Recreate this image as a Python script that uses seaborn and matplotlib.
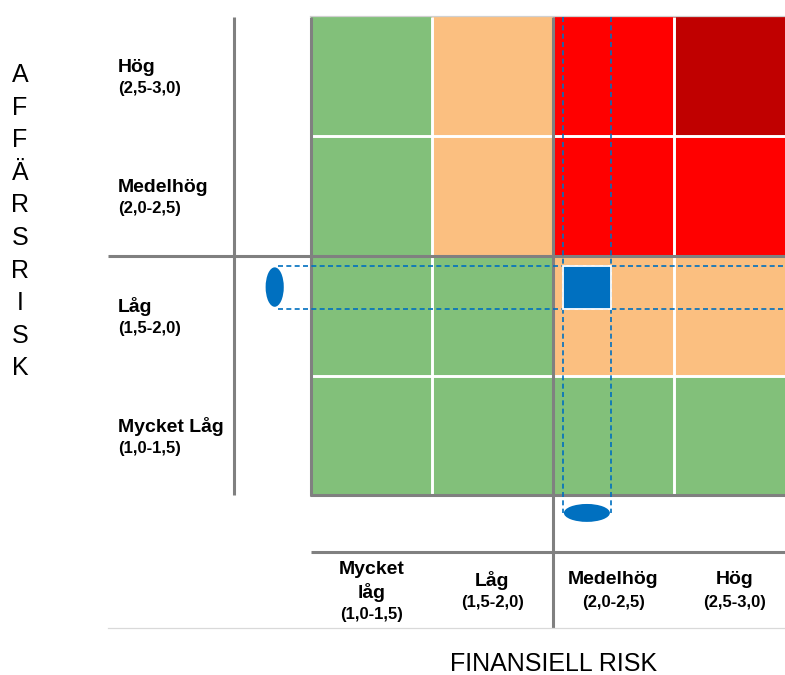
import numpy as np
import pandas as pd
import seaborn as sns
import matplotlib
matplotlib.use("Agg")
import matplotlib.pyplot as plt
from matplotlib.colors import ListedColormap
from matplotlib.patches import Rectangle, Ellipse

# Risk matrix: business risk (rows, high to low) vs financial risk (columns, low to high)
row_names = ["Hög", "Medelhög", "Låg", "Mycket Låg"]
row_ranges = ["(2,5-3,0)", "(2,0-2,5)", "(1,5-2,0)", "(1,0-1,5)"]
col_names = ["Mycket\nlåg", "Låg", "Medelhög", "Hög"]
col_ranges = ["(1,0-1,5)", "(1,5-2,0)", "(2,0-2,5)", "(2,5-3,0)"]

# Risk level per cell: 0 = low, 1 = moderate, 2 = high, 3 = very high
level_hog = [0, 1, 2, 3]
level_medelhog = [0, 1, 2, 2]
level_lag = [0, 0, 1, 1]
level_mycket_lag = [0, 0, 0, 0]

level_colors = ["#82C07A", "#FBBF80", "#FF0000", "#C00000"]

# Assessed position (score ranges on the 1,0-3,0 scale)
financial_score = (2.04, 2.24)
business_score = (1.78, 1.96)

plt.rcParams["font.family"] = ["Liberation Sans", "DejaVu Sans"]

W, H = 785, 675
fig = plt.figure(figsize=(W / 100, H / 100), dpi=100)

# Heatmap area in pixel coordinates
gx0, gx1, gy0, gy1 = 311, 795, 17, 495
ax = fig.add_axes([gx0 / W, 1 - gy1 / H, (gx1 - gx0) / W, (gy1 - gy0) / H])

matrix = pd.DataFrame([level_hog, level_medelhog, level_lag, level_mycket_lag],
                      index=row_names, columns=[c.replace("\n", " ") for c in col_names])
sns.heatmap(matrix, ax=ax, cmap=ListedColormap(level_colors), vmin=-0.5, vmax=3.5,
            cbar=False, linewidths=0, square=False)
# White separators between interior cells only
n_rows, n_cols = matrix.shape
ax.hlines(range(1, n_rows), 0, n_cols, color="white", lw=2.1)
ax.vlines(range(1, n_cols), 0, n_rows, color="white", lw=2.1)
ax.set_xticks([])
ax.set_yticks([])
ax.set_xlabel("")
ax.set_ylabel("")

# Overlay in pixel coordinates for frame lines and labels
ov = fig.add_axes([0, 0, 1, 1], zorder=5)
ov.set_xlim(0, W)
ov.set_ylim(H, 0)
ov.set_axis_off()
ov.patch.set_alpha(0)

gray = "#808080"
lw_g = 2.2
ov.plot([234, 234], [17, 495], color=gray, lw=lw_g, solid_capstyle="butt")
ov.plot([108, 785], [256, 256], color=gray, lw=lw_g, solid_capstyle="butt")
ov.plot([553, 553], [17, 628], color=gray, lw=lw_g, solid_capstyle="butt")
ov.plot([311, 311], [17, 496], color=gray, lw=lw_g, solid_capstyle="butt")
ov.plot([310, 785], [495, 495], color=gray, lw=lw_g, solid_capstyle="butt")
ov.plot([311, 785], [552, 552], color=gray, lw=lw_g, solid_capstyle="butt")
ov.plot([108, 785], [628, 628], color="#D9D9D9", lw=0.9)
ov.plot([310, 785], [16, 16], color="#D0D0D0", lw=0.9)

# Assessed position marker, in heatmap cell units
blue = "#0070C0"
tr = ax.transData
fx0 = (financial_score[0] - 1.0) / 0.5
fx1 = (financial_score[1] - 1.0) / 0.5
by0 = (3.0 - business_score[1]) / 0.5
by1 = (3.0 - business_score[0]) / 0.5
dash = (0, (3, 2))
for yv in (by0, by1):
    ov.plot([-0.27, 4.0], [yv, yv], color=blue, lw=1.2, linestyle=dash, transform=tr, zorder=6)
for xv in (fx0, fx1):
    ov.plot([xv, xv], [0.0, 4.15], color=blue, lw=1.2, linestyle=dash, transform=tr, zorder=6)
ov.add_patch(Rectangle((fx0, by0), fx1 - fx0, by1 - by0, facecolor=blue,
                       edgecolor="white", lw=1.3, transform=tr, zorder=7))
ov.add_patch(Ellipse((-0.30, (by0 + by1) / 2), 0.15, 0.33, facecolor=blue,
                     edgecolor="none", transform=tr, zorder=7))
ov.add_patch(Ellipse(((fx0 + fx1) / 2, 4.15), 0.38, 0.15, facecolor=blue,
                     edgecolor="none", transform=tr, zorder=7))

# Row labels
row_centers = [76, 196, 316, 436]
for name, rng, yc in zip(row_names, row_ranges, row_centers):
    ov.text(118, yc - 9, name, fontsize=14, fontweight="bold", ha="left", va="center")
    ov.text(118, yc + 13, rng, fontsize=12, fontweight="bold", ha="left", va="center")

# Column labels
col_centers = [371.5, 492.5, 613.5, 734.5]
for name, rng, xc in zip(col_names, col_ranges, col_centers):
    if "\n" in name:
        top, bottom = name.split("\n")
        ov.text(xc, 570, top, fontsize=14, fontweight="bold", ha="center", va="center")
        ov.text(xc, 592, bottom, fontsize=14, fontweight="bold", ha="center", va="center")
        ov.text(xc, 615, rng, fontsize=12, fontweight="bold", ha="center", va="center")
    else:
        ov.text(xc, 580, name, fontsize=14, fontweight="bold", ha="center", va="center")
        ov.text(xc, 603, rng, fontsize=12, fontweight="bold", ha="center", va="center")

# Axis titles
for i, ch in enumerate("AFFÄRSRISK"):
    ov.text(20, 75 + i * 32.6, ch, fontsize=18, ha="center", va="center")
ov.text(554, 664, "FINANSIELL RISK", fontsize=18, ha="center", va="center")

fig.savefig("out.png", dpi=100)
